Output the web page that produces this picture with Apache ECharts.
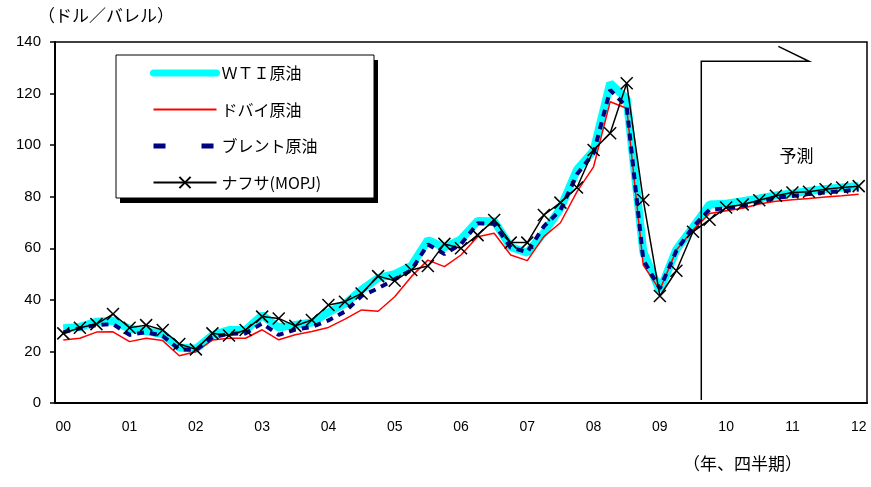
<!DOCTYPE html>
<html>
<head>
<meta charset="utf-8">
<script src="https://cdn.jsdelivr.net/npm/echarts@6/dist/echarts.min.js"></script>
<style>html,body{margin:0;padding:0;background:#fff;}#c{width:871px;height:487px;}</style>
</head>
<body>
<div id="c"></div>
<script>
// Year tick labels (quarterly data, 2000Q1 - 2012Q1)
const yearLabels = ['00','01','02','03','04','05','06','07','08','09','10','11','12'];
const categories = [];
yearLabels.forEach((y, i) => {
  const nq = (i === yearLabels.length - 1) ? 1 : 4;
  for (let q = 1; q <= nq; q++) categories.push(y + 'Q' + q);
});

const wti = [29.0,29.5,31.5,31.9, 28.8,27.9,26.7,21.5, 21.0,26.3,28.3,28.3, 34.0,29.3,30.3,31.2,
  35.2,38.5,43.9,48.5, 50.0,53.2,63.2,60.3, 63.5,70.6,70.5,60.5, 58.3,66.0,75.5,90.5,
  97.9,124.0,118.0,58.7, 43.5,59.6,68.2,77.0, 77.3,78.3,79.3,80.5, 81.3,82.2,83.0,83.6, 84.2];
const dubai = [24.4,25.1,27.5,27.6, 23.8,25.1,24.2,18.3, 19.9,24.4,25.1,25.1, 28.4,24.5,26.5,27.7,
  29.3,32.5,36.1,35.6, 41.2,49.0,55.4,52.9, 57.4,64.5,65.8,57.4, 55.2,64.5,69.9,82.0,
  91.6,116.8,114.3,53.5, 43.8,59.3,67.1,73.5, 74.6,75.5,77.2,78.2, 78.8,79.3,79.9,80.4, 81.0];
const brent = [27.4,29.0,30.2,30.6, 26.4,27.5,26.0,20.8, 20.6,25.5,26.8,27.0, 30.9,26.4,28.5,29.5,
  32.0,35.5,41.5,44.5, 48.0,51.5,61.5,57.8, 61.6,69.7,69.5,60.3, 58.5,68.5,74.8,88.7,
  96.9,121.4,114.8,55.5, 44.4,59.1,68.3,75.0, 75.5,76.5,78.0,79.5, 80.3,81.0,81.7,82.2, 82.8];
const naphtha = [27.0,29.2,30.6,34.5, 29.2,30.2,28.3,22.9, 20.8,27.0,26.2,28.3, 33.5,32.8,29.9,32.2,
  38.0,39.3,42.5,49.2, 47.4,51.6,53.1,61.7, 60.0,65.1,71.0,62.2, 62.2,72.9,77.7,83.6,
  98.1,104.6,124.0,78.7, 41.5,51.3,66.4,71.1, 75.8,77.0,78.6,80.4, 81.6,81.9,82.9,83.6, 84.1];

const seriesNames = ['ＷＴＩ原油','ドバイ原油','ブレント原油','ナフサ(MOPJ)'];

const FONT = '"Liberation Sans", Arial, "Noto Sans CJK JP", sans-serif';
const JFONT = '"Noto Sans CJK JP", "Liberation Sans", sans-serif';

const chart = echarts.init(document.getElementById('c'), null, {renderer: 'canvas'});
const hideSym = {color: 'transparent', opacity: 0, borderWidth: 0};
const option = {
  animation: false,
  backgroundColor: '#fff',
  grid: {left: 55, right: 4, top: 42, bottom: 84, show: true, borderColor: '#000', borderWidth: 1.5, backgroundColor: 'transparent'},
  legend: {
    orient: 'vertical', left: 145, top: 60,
    itemWidth: 63, itemHeight: 14, itemGap: 20.5,
    textStyle: {fontFamily: JFONT, fontSize: 16, color: '#000', lineHeight: 16},
    data: [
      {name: seriesNames[0], itemStyle: hideSym, lineStyle: {width: 7, cap: 'round', color: '#00FFFF'}},
      {name: seriesNames[1], itemStyle: hideSym},
      {name: seriesNames[2], itemStyle: hideSym, lineStyle: {width: 5, type: [12, 36], color: '#000080'}},
      {name: seriesNames[3]}
    ], z: 10
  },
  xAxis: {
    type: 'category', data: categories, boundaryGap: true,
    axisLine: {lineStyle: {color: '#000', width: 2}},
    axisTick: {inside: true, length: 7, interval: 3, lineStyle: {color: '#000', width: 1.5}},
    axisLabel: {interval: 3, margin: 17, fontFamily: FONT, fontSize: 14, color: '#000',
      formatter: (v, idx) => (idx % 4 === 0 ? yearLabels[idx / 4] : '')},
    splitLine: {show: false}
  },
  yAxis: {
    type: 'value', min: 0, max: 140, interval: 20,
    axisLine: {show: true, lineStyle: {color: '#000', width: 2}},
    axisTick: {show: true, length: 5, lineStyle: {color: '#000', width: 1.5}},
    axisLabel: {margin: 14, fontFamily: FONT, fontSize: 15, color: '#000'},
    splitLine: {show: false}
  },
  series: [
    {name: seriesNames[0], type: 'line', data: wti, showSymbol: false, symbol: 'none', z: 1,
      lineStyle: {color: '#00FFFF', width: 8}, itemStyle: {color: '#00FFFF'}},
    {name: seriesNames[1], type: 'line', data: dubai, showSymbol: false, symbol: 'none', z: 2,
      lineStyle: {color: '#FF0000', width: 1.5}, itemStyle: {color: '#FF0000'}},
    {name: seriesNames[2], type: 'line', data: brent, showSymbol: false, symbol: 'none', z: 3,
      lineStyle: {color: '#000080', width: 4, type: [7, 6]}, itemStyle: {color: '#000080'}},
    {name: seriesNames[3], type: 'line', data: naphtha, z: 4,
      symbol: 'path://M0,0L10,10M10,0L0,10', symbolSize: 12, showSymbol: true, showAllSymbol: true,
      lineStyle: {color: '#000', width: 1.5},
      itemStyle: {color: 'transparent', borderColor: '#000', borderWidth: 1.5}}
  ]
};
chart.setOption(option);

// Annotation positions through the chart's own scales
function px(idx, val) {
  const lo = Math.floor(idx), hi = Math.ceil(idx);
  const a = chart.convertToPixel({xAxisIndex: 0, yAxisIndex: 0}, [lo, val]);
  const b = chart.convertToPixel({xAxisIndex: 0, yAxisIndex: 0}, [hi, val]);
  const t = hi === lo ? 0 : (idx - lo) / (hi - lo);
  return [a[0] + (b[0] - a[0]) * t, a[1]];
}
const fStart = 38.5;
const pBottom = px(fStart, 1.2);
const pTop = px(fStart, 132.5);
const pRight = px(45, 132.5);
const pDiag = px(43.15, 138.3);
const pText = px(44.3, 95);

chart.setOption({
  graphic: [
    {type: 'rect', z: 0, shape: {x: 120, y: 60, width: 258, height: 143}, style: {fill: '#000'}},
    {type: 'rect', z: 1, shape: {x: 116, y: 55, width: 258, height: 143}, style: {fill: '#fff', stroke: '#000', lineWidth: 1}},
    {type: 'polyline', z: 5, shape: {points: [pBottom, pTop, pRight, pDiag]}, style: {stroke: '#000', lineWidth: 1.5, fill: null}},
    {type: 'text', z: 5, left: pText[0] - 18, top: pText[1] - 11, style: {text: '予測', font: '17px ' + JFONT, fill: '#000'}},
    {type: 'text', z: 5, left: 38, top: 7, style: {text: '（ドル／バレル）', font: '17px ' + JFONT, fill: '#000'}},
    {type: 'text', z: 5, left: 683, top: 455, style: {text: '（年、四半期）', font: '17px ' + JFONT, fill: '#000'}}
  ]
});
</script>
</body>
</html>
